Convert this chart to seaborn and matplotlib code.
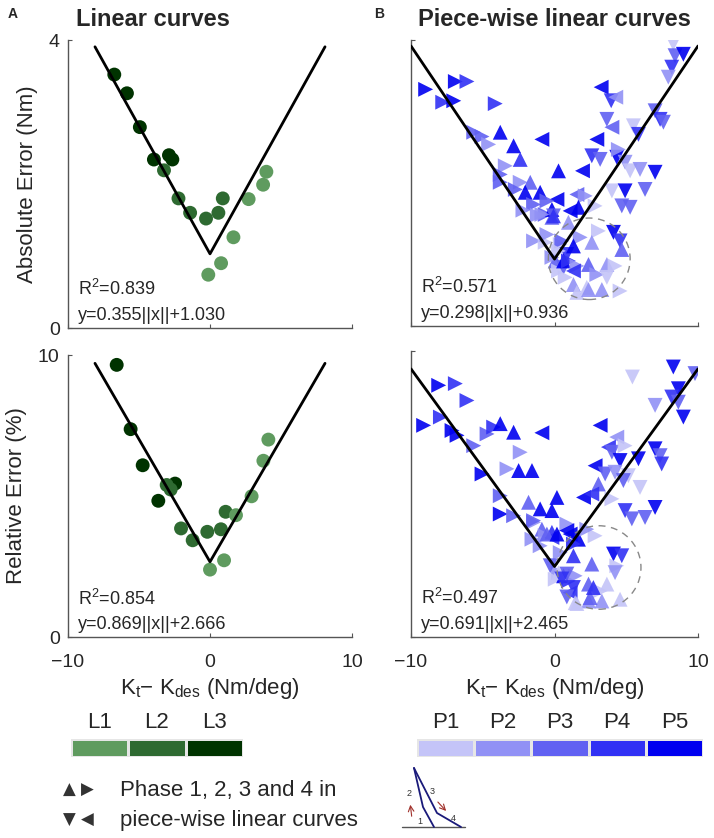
import matplotlib
matplotlib.use('Agg')
import matplotlib.pyplot as plt
from matplotlib.colors import ListedColormap
from matplotlib.patches import Ellipse
import numpy as np
import pandas as pd
import seaborn as sns

# ---- panel A: linear curves (level L1..L3) ----
abs_lin_x = [-6.74, -5.85, -4.94, -3.95, -2.89, -2.65, -3.24, -2.22, -1.40, -0.28,
             0.59, 0.90, 1.65, 2.72, 3.74, 3.97, 0.78, -0.12]
abs_lin_y = [3.52, 3.26, 2.79, 2.34, 2.40, 2.34, 2.19, 1.80, 1.60, 1.52,
             1.60, 1.80, 1.26, 1.79, 1.99, 2.17, 0.90, 0.74]
abs_lin_level = ['L3', 'L3', 'L3', 'L3', 'L3', 'L3', 'L2', 'L2', 'L2', 'L2',
                 'L2', 'L2', 'L1', 'L1', 'L1', 'L1', 'L1', 'L1']

rel_lin_x = [-6.57, -5.59, -4.74, -3.64, -2.46, -3.05, -2.77, -2.04, -1.22, -0.19,
             0.77, 1.10, 1.83, 2.93, 3.76, 4.11, 0.99, 0.00]
rel_lin_y = [9.65, 7.37, 6.09, 4.83, 5.44, 5.39, 5.23, 3.85, 3.43, 3.73,
             3.82, 4.44, 4.32, 4.99, 6.25, 7.00, 2.72, 2.39]
rel_lin_level = ['L3', 'L3', 'L3', 'L3', 'L3', 'L2', 'L2', 'L2', 'L2', 'L2',
                 'L2', 'L2', 'L1', 'L1', 'L1', 'L1', 'L1', 'L1']

# ---- panel B: piece-wise linear curves (x, y, phase, level P1..P5) ----
abs_pw = [
    (-8.98, 3.31, 2, 5), (-6.91, 3.42, 2, 5), (-6.10, 3.42, 2, 4), (-7.79, 3.13, 2, 4),
    (-7.02, 3.15, 2, 5), (-4.13, 3.11, 2, 4), (-5.63, 2.71, 2, 3), (-5.05, 2.65, 2, 3),
    (-4.59, 2.54, 2, 2), (-3.78, 2.71, 1, 5), (-0.88, 2.61, 4, 5), (-2.85, 2.52, 1, 5),
    (-2.39, 2.33, 1, 4), (-3.43, 2.24, 2, 2), (-3.78, 2.12, 2, 3), (-3.78, 2.01, 2, 3),
    (-2.39, 2.01, 2, 2), (-1.69, 2.01, 1, 3), (-2.04, 1.87, 1, 5), (-1.00, 1.87, 1, 5),
    (0.28, 2.17, 1, 5), (-2.73, 1.91, 2, 3), (-1.46, 1.70, 2, 3), (0.17, 1.77, 4, 5),
    (-0.65, 1.56, 2, 3), (-0.18, 1.52, 1, 3), (-1.46, 1.19, 2, 2), (-0.65, 1.17, 2, 1),
    (0.05, 0.91, 1, 3), (0.28, 0.77, 2, 1), (-0.53, 1.75, 2, 3), (-0.18, 1.63, 1, 5),
    (-0.07, 1.54, 3, 3), (-0.88, 1.56, 2, 2), (1.56, 1.84, 4, 3), (0.97, 1.45, 1, 2),
    (-0.53, 1.28, 2, 2), (0.40, 1.14, 2, 1), (0.86, 1.00, 3, 4), (0.63, 0.82, 3, 3),
    (1.32, 0.58, 1, 2), (2.25, 0.54, 1, 1), (-1.20, 1.55, 2, 2), (-2.20, 1.62, 2, 2),
    (8.28, 3.95, 3, 1), (8.40, 3.78, 3, 3), (8.98, 3.80, 3, 5), (8.17, 3.62, 3, 4),
    (7.93, 3.48, 3, 2), (3.25, 3.34, 4, 5), (3.95, 3.15, 3, 4), (4.27, 3.20, 4, 2),
    (3.65, 2.89, 3, 3), (4.00, 2.78, 4, 3), (7.01, 3.01, 3, 3), (7.36, 2.89, 3, 4),
    (7.59, 2.85, 3, 3), (5.50, 2.80, 3, 1), (5.85, 2.68, 3, 4), (2.95, 2.61, 4, 5),
    (2.60, 2.38, 3, 4), (3.18, 2.33, 3, 3), (4.34, 2.36, 3, 5), (4.45, 2.47, 2, 2),
    (4.92, 2.29, 3, 2), (5.27, 2.17, 3, 1), (5.96, 2.19, 3, 2), (7.01, 2.15, 3, 5),
    (1.95, 2.17, 4, 5), (4.00, 1.89, 3, 1), (4.92, 1.89, 3, 5), (6.31, 1.91, 3, 3),
    (2.14, 1.82, 2, 2), (2.83, 1.68, 2, 1), (4.69, 1.68, 3, 3), (5.27, 1.66, 3, 3),
    (1.09, 1.61, 4, 5), (1.67, 1.66, 1, 5), (-0.07, 1.54, 1, 4), (3.06, 1.33, 2, 1),
    (4.11, 1.31, 3, 5), (4.57, 1.19, 3, 4), (4.69, 1.07, 1, 3), (2.60, 1.17, 1, 2),
    (1.79, 1.24, 2, 2), (1.32, 1.12, 1, 5), (0.51, 1.19, 2, 3), (0.63, 0.91, 1, 5),
    (0.97, 0.91, 2, 4), (1.56, 0.84, 2, 2), (2.37, 0.86, 1, 3), (3.65, 0.86, 1, 2),
    (4.22, 0.84, 2, 1), (1.32, 0.77, 4, 4), (2.95, 0.72, 2, 2), (3.65, 0.68, 3, 1),
    (0.74, 0.68, 2, 1), (1.56, 0.47, 1, 1), (2.37, 0.51, 1, 2), (3.30, 0.51, 1, 2),
    (4.57, 0.49, 2, 1), (0.28, 1.05, 2, 1), (-0.18, 0.96, 2, 2),
]

rel_pw = [
    (-8.07, 8.80, 2, 5), (-6.91, 8.86, 2, 4), (-6.10, 8.27, 2, 4), (-9.12, 7.40, 2, 5),
    (-7.95, 7.69, 2, 4), (-7.14, 7.22, 2, 5), (-6.79, 7.05, 2, 5), (-5.63, 6.69, 2, 3),
    (-4.70, 7.10, 2, 3), (-4.24, 7.34, 2, 4), (-3.78, 7.46, 1, 5), (-2.85, 7.16, 1, 5),
    (-0.88, 7.14, 4, 5), (-2.39, 6.46, 2, 2), (-3.31, 5.88, 2, 2), (-2.50, 5.82, 1, 5),
    (-1.57, 5.82, 1, 5), (-5.05, 5.70, 2, 5), (-3.78, 4.94, 2, 3), (-3.78, 4.30, 2, 5),
    (-2.85, 4.24, 2, 3), (-1.81, 4.71, 1, 3), (-1.00, 4.48, 1, 5), (0.17, 4.88, 1, 5),
    (-0.18, 4.42, 1, 5), (-1.46, 4.01, 2, 2), (-0.88, 3.77, 1, 3), (-1.57, 3.42, 2, 2),
    (-0.65, 3.54, 2, 2), (-0.18, 3.66, 1, 4), (-1.00, 3.19, 2, 2), (0.28, 2.25, 2, 2),
    (0.05, 2.02, 2, 1),
    (8.28, 9.44, 3, 5), (9.79, 9.21, 3, 3), (5.43, 9.09, 3, 1), (8.63, 8.68, 3, 5),
    (8.17, 8.39, 3, 4), (8.63, 8.21, 3, 3), (7.01, 8.10, 3, 2), (8.98, 7.69, 3, 5),
    (3.18, 7.40, 4, 5), (4.34, 6.99, 4, 2), (3.76, 6.64, 4, 4), (4.00, 6.46, 3, 3),
    (4.92, 6.69, 2, 1), (4.57, 6.17, 3, 5), (5.85, 6.23, 3, 5), (7.01, 6.58, 3, 5),
    (7.36, 6.34, 3, 3), (7.47, 6.05, 3, 4), (2.83, 5.99, 4, 5), (3.53, 5.70, 3, 3),
    (4.22, 5.76, 3, 2), (5.15, 5.64, 3, 1), (4.80, 5.47, 3, 3), (5.96, 5.23, 3, 1),
    (3.06, 5.35, 1, 3), (2.02, 4.88, 4, 5), (2.60, 5.00, 4, 4), (4.00, 4.83, 2, 1),
    (4.92, 4.42, 3, 4), (5.39, 4.13, 3, 3), (6.31, 4.18, 3, 3), (7.01, 4.53, 3, 5),
    (1.09, 3.60, 4, 5), (1.67, 3.42, 1, 5), (2.83, 3.54, 2, 1), (2.25, 3.77, 2, 2),
    (1.32, 2.84, 1, 4), (2.60, 2.55, 1, 3), (4.11, 2.90, 3, 5), (4.69, 2.84, 3, 4),
    (4.34, 2.49, 2, 1), (4.22, 2.25, 3, 2), (0.63, 2.14, 1, 5), (0.97, 1.96, 2, 4),
    (1.44, 2.14, 2, 2), (2.37, 1.85, 1, 3), (3.65, 1.85, 1, 1), (1.09, 1.55, 4, 4),
    (3.18, 1.61, 2, 1), (1.44, 1.20, 1, 1), (2.37, 1.26, 1, 2), (3.30, 1.26, 1, 2),
    (4.57, 1.32, 1, 1), (-0.18, 3.48, 4, 4), (0.40, 2.95, 2, 2), (-0.30, 2.49, 3, 3),
    (0.28, 2.25, 1, 1), (0.86, 3.95, 2, 2), (-0.53, 3.60, 1, 3), (0.17, 3.60, 1, 5),
    (-1.46, 4.07, 2, 3), (0.86, 3.72, 4, 5), (1.32, 3.25, 2, 4), (0.86, 2.20, 3, 3),
    (0.51, 2.03, 3, 4), (1.32, 1.73, 3, 4), (0.86, 1.40, 3, 3), (1.56, 1.17, 1, 1),
    (2.48, 1.38, 1, 3), (2.71, 1.73, 1, 4),
]

# fits y = a*||x|| + b, with R^2
abs_lin_fit = (0.355, 1.030, 0.839)
rel_lin_fit = (0.869, 2.666, 0.854)
abs_pw_fit = (0.298, 0.936, 0.571)
rel_pw_fit = (0.691, 2.465, 0.497)

lin_levels = ['L1', 'L2', 'L3']
pw_levels = ['P1', 'P2', 'P3', 'P4', 'P5']
greens = ['#5f9b5f', '#2e6a31', '#003300']
blues = ['#c4c4f8', '#9191f5', '#6161f2', '#3131f4', '#0000f0']
phase_markers = {1: '^', 2: '>', 3: 'v', 4: '<'}

# small loading-curve icon (pixel units of the figure)
icon_up_x = [414, 423, 434]
icon_up_y = [768, 807, 827]
icon_down_x = [414, 437, 461]
icon_down_y = [768, 813, 827]

W, H = 714, 838


def fig_rect(x0, y0, x1, y1):
    return [x0 / W, 1 - y1 / H, (x1 - x0) / W, (y1 - y0) / H]


sns.set_style('white')
plt.rcParams['font.family'] = ['Liberation Sans', 'DejaVu Sans']
plt.rcParams['mathtext.fontset'] = 'custom'
plt.rcParams['mathtext.rm'] = 'Liberation Sans'
plt.rcParams['mathtext.it'] = 'Liberation Sans:italic'
plt.rcParams['mathtext.default'] = 'regular'

fig = plt.figure(figsize=(W / 100, H / 100), dpi=100)

ax_a1 = fig.add_axes(fig_rect(68, 40, 352, 328))
ax_a2 = fig.add_axes(fig_rect(68, 355, 352, 637))
ax_b1 = fig.add_axes(fig_rect(411, 40, 698, 326))
ax_b2 = fig.add_axes(fig_rect(411, 351, 698, 637))


def style_axes(ax, ymax, show_x, show_y):
    ax.set_xlim(-10, 10)
    ax.set_ylim(0, ymax)
    ax.set_xticks([-10, 0, 10])
    ax.set_yticks([0, ymax])
    sns.despine(ax=ax)
    for sp in ['left', 'bottom']:
        ax.spines[sp].set_color('#555555')
        ax.spines[sp].set_linewidth(1.0)
    ax.tick_params(direction='in', length=3, width=0.8, color='#555555',
                   labelsize=14, labelbottom=show_x, labelleft=show_y,
                   bottom=True, left=True)
    ax.tick_params(axis='x', pad=12)
    ax.tick_params(axis='y', pad=6)
    ax.set_xlabel('')
    ax.set_ylabel('')


def draw_fit(ax, fit, xmax):
    a, b, r2 = fit
    xs = np.array([-xmax, 0.0, xmax])
    ax.plot(xs, a * np.abs(xs) + b, color='black', lw=2.0, zorder=4)
    ax.text(0.035, 0.115, f'R$^2$={r2:.3f}', transform=ax.transAxes,
            fontsize=13, va='baseline', zorder=5)
    ax.text(0.035, 0.028, f'y={a:.3f}||x||+{b:.3f}', transform=ax.transAxes,
            fontsize=13, va='baseline', zorder=5)


# linear panels
for ax, xs, ys, lv, fit, ymax in [
        (ax_a1, abs_lin_x, abs_lin_y, abs_lin_level, abs_lin_fit, 4),
        (ax_a2, rel_lin_x, rel_lin_y, rel_lin_level, rel_lin_fit, 10)]:
    df = pd.DataFrame({'x': xs, 'y': ys, 'level': lv})
    sns.scatterplot(data=df, x='x', y='y', hue='level', hue_order=lin_levels,
                    palette=greens, s=100, edgecolor='none', legend=False, ax=ax,
                    zorder=3)
    draw_fit(ax, fit, 8.1)
    style_axes(ax, ymax, show_x=(ax is ax_a2), show_y=True)

# piece-wise panels
for ax, pts, fit, ymax, circ in [
        (ax_b1, abs_pw, abs_pw_fit, 4, (2.42, 0.94, 5.7, 1.14)),
        (ax_b2, rel_pw, rel_pw_fit, 10, (3.1, 2.43, 5.85, 2.92))]:
    df = pd.DataFrame(pts, columns=['x', 'y', 'phase', 'lv'])
    df['level'] = ['P%d' % v for v in df['lv']]
    sns.scatterplot(data=df, x='x', y='y', hue='level', hue_order=pw_levels,
                    palette=blues, style='phase', markers=phase_markers, s=115,
                    edgecolor='none', alpha=0.9, legend=False, ax=ax, zorder=3)
    cx, cy, cw, ch = circ
    ax.add_patch(Ellipse((cx, cy), cw, ch, fill=False, ls=(0, (5, 4)),
                         lw=1.0, color='#888888', zorder=4))
    draw_fit(ax, fit, 10)
    style_axes(ax, ymax, show_x=(ax is ax_b2), show_y=False)

ax_a1.set_ylabel('Absolute Error (Nm)', fontsize=16, labelpad=8)
ax_a2.set_ylabel('Relative Error (%)', fontsize=16, labelpad=8)
xlab = r'K$_{t}$− K$_{des}$ (Nm/deg)'
ax_a2.set_xlabel(xlab, fontsize=16, labelpad=4)
ax_b2.set_xlabel(xlab, fontsize=16, labelpad=4)

ax_a1.text(0.028, 1.05, 'Linear curves', transform=ax_a1.transAxes,
           fontsize=17, fontweight='bold', va='baseline')
ax_b1.text(0.5, 1.05, 'Piece-wise linear curves', transform=ax_b1.transAxes,
           fontsize=17, fontweight='bold', va='baseline', ha='center')
fig.text(8 / W, 1 - 18 / H, 'A', fontsize=10, fontweight='bold')
fig.text(374 / W, 1 - 18 / H, 'B', fontsize=10, fontweight='bold')

# colour keys as one-row heatmaps
for rect, labels, cols in [((71, 739, 243, 757), lin_levels, greens),
                           ((417, 739, 703, 757), pw_levels, blues)]:
    cax = fig.add_axes(fig_rect(*rect))
    sns.heatmap(np.arange(len(labels))[None, :], cmap=ListedColormap(cols),
                cbar=False, linewidths=1, linecolor='#e6e6e6',
                xticklabels=labels, yticklabels=False, ax=cax)
    cax.xaxis.tick_top()
    cax.tick_params(length=0, labelsize=16, pad=4)
    plt.setp(cax.get_xticklabels(), rotation=0)

# phase legend
for ypx, sym, txt in [(790, '▲ ▶', 'Phase 1, 2, 3 and 4 in'),
                      (820, '▼ ◀', 'piece-wise linear curves')]:
    fig.text(63 / W, 1 - ypx / H, sym, fontsize=12, color='#333333',
             family='DejaVu Sans', va='center')
    fig.text(120 / W, 1 - ypx / H, txt, fontsize=16, va='center')

# loading curve icon
iax = fig.add_axes([0, 0, 1, 1])
iax.set_xlim(0, W)
iax.set_ylim(H, 0)
iax.axis('off')
iax.plot([402, 465], [827, 827], color='#555555', lw=1.0)
iax.plot(icon_up_x, icon_up_y, color='#1a1a7a', lw=1.3)
iax.plot(icon_down_x, icon_down_y, color='#1a1a7a', lw=1.3)
for lab, lx, ly in [('1', 420, 821), ('2', 409, 793), ('3', 432, 791), ('4', 453, 818)]:
    iax.text(lx, ly, lab, fontsize=6.5, color='#333333', ha='center', va='center')
iax.annotate('', xy=(410, 802), xytext=(412, 819),
             arrowprops=dict(arrowstyle='->', color='#a0302a', lw=0.8))
iax.annotate('', xy=(448, 813), xytext=(436, 800),
             arrowprops=dict(arrowstyle='->', color='#a0302a', lw=0.8))

fig.savefig('out.png', dpi=100)
